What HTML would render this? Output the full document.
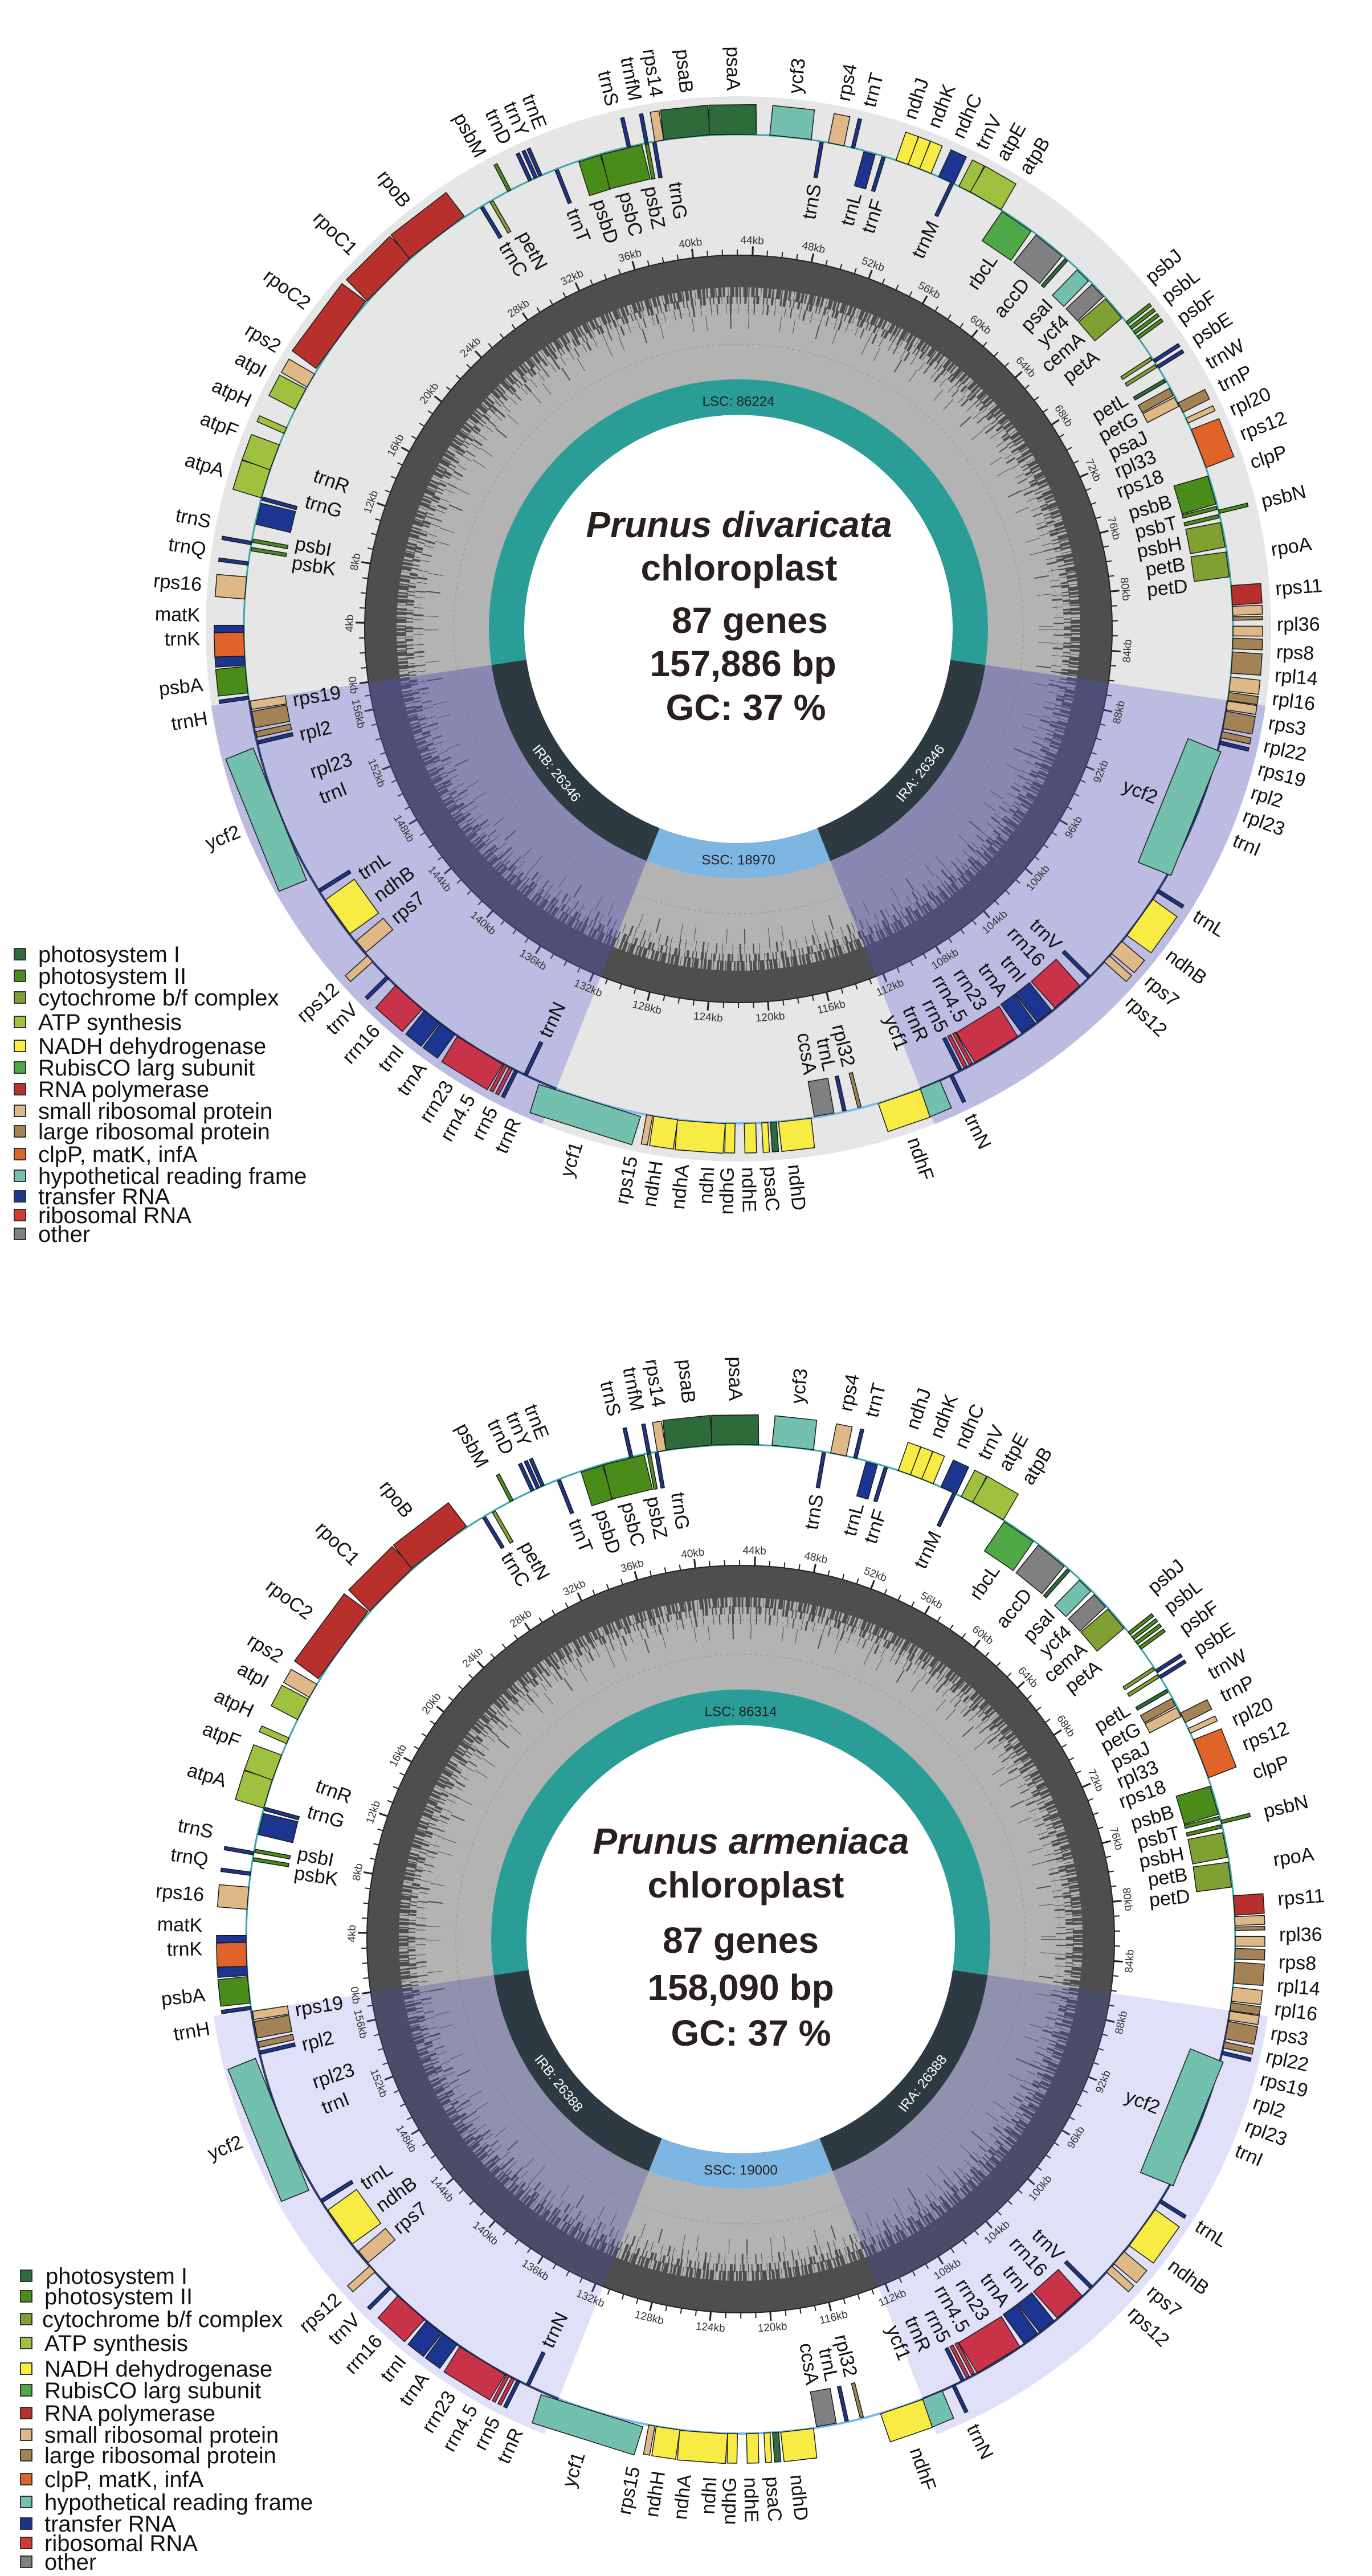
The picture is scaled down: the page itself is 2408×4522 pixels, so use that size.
<!DOCTYPE html>
<html><head><meta charset="utf-8"><style>
html,body{margin:0;padding:0;background:#fff}
svg{display:block}
text{font-family:"Liberation Sans",Arial,sans-serif}
.g text{font-size:34px;fill:#111}
.g rect{stroke:#1a1a1a;stroke-width:1.5}
.e{text-anchor:end}
.kb text{font-size:19px;fill:#333;text-anchor:middle}
.p1{fill:#2e6b3a}.p2{fill:#4a8c1a}.cy{fill:#80a034}.at{fill:#a0c040}.nd{fill:#f8ec44}.rb{fill:#4da845}.rp{fill:#b8302c}.sr{fill:#deb887}.lr{fill:#a38355}.cl{fill:#e0642a}.hy{fill:#74c0ae}.tr{fill:#1c3590}.rr{fill:#c9334a}.ot{fill:#808080}
.ttl{font-size:64px;font-weight:bold;fill:#2a1f1f;text-anchor:middle}
.leg text{font-size:40px;fill:#111}
.leg rect{stroke:#333;stroke-width:2}
</style></head><body>
<svg width="2408" height="4522" viewBox="0 0 2408 4522" xmlns="http://www.w3.org/2000/svg">
<defs>
<path id="ira" d="M 433.4 63.2 L 925.2 135.0 A 935 935 0 0 1 344.2 869.3 L 161.2 407.2 A 438 438 0 0 0 433.4 63.2 Z"/>
<path id="irb" d="M -161.2 407.2 L -344.2 869.3 A 935 935 0 0 1 -925.2 135.0 L -433.4 63.2 A 438 438 0 0 0 -161.2 407.2 Z"/>
<path id="iragc" d="M 433.4 63.2 L 649.1 94.7 A 656 656 0 0 1 241.5 609.9 L 161.2 407.2 A 438 438 0 0 0 433.4 63.2 Z"/>
<path id="irbgc" d="M -161.2 407.2 L -241.5 609.9 A 656 656 0 0 1 -649.1 94.7 L -433.4 63.2 A 438 438 0 0 0 -161.2 407.2 Z"/>
<g id="gc">
<circle r="547" fill="none" stroke="#b3b3b3" stroke-width="218"/>
<circle r="500" fill="none" stroke="#9c9c9c" stroke-width="1.5" stroke-dasharray="5 5"/>
<circle r="560" fill="none" stroke="#9c9c9c" stroke-width="1.5" stroke-dasharray="5 5"/>
<circle r="628" fill="none" stroke="#4e4e4e" stroke-width="56"/>
<circle r="592" fill="none" stroke="#4e4e4e" stroke-width="18" stroke-dasharray="5 2 3 4 8 1 2 3 6 2 4 5 1 3 7 2"/>
<circle r="578" fill="none" stroke="#4e4e4e" stroke-width="14" stroke-dasharray="2 6 4 3 1 8 3 2 5 7 2 4"/>
<circle r="562" fill="none" stroke="#4e4e4e" stroke-width="18" stroke-dasharray="1 9 2 14 1 6 3 11 1 17"/>
<circle r="540" fill="none" stroke="#4e4e4e" stroke-width="26" stroke-dasharray="1 23 1 41 2 30 1 55"/>
<circle r="656" fill="none" stroke="#222" stroke-width="2"/>
<circle r="661" fill="none" stroke="#222" stroke-width="10" stroke-dasharray="2 24.305" transform="rotate(171.7)"/>
<circle r="664" fill="none" stroke="#222" stroke-width="16" stroke-dasharray="3 102.7" transform="rotate(171.7)"/>
</g>
<g id="kb" class="kb">
<text dy=".35em" transform="rotate(81.7) translate(0,683)">0kb</text>
<text dy=".35em" transform="rotate(270.82) translate(0,-683)">4kb</text>
<text dy=".35em" transform="rotate(279.94) translate(0,-683)">8kb</text>
<text dy=".35em" transform="rotate(289.06) translate(0,-683)">12kb</text>
<text dy=".35em" transform="rotate(298.18) translate(0,-683)">16kb</text>
<text dy=".35em" transform="rotate(307.31) translate(0,-683)">20kb</text>
<text dy=".35em" transform="rotate(316.43) translate(0,-683)">24kb</text>
<text dy=".35em" transform="rotate(325.55) translate(0,-683)">28kb</text>
<text dy=".35em" transform="rotate(334.67) translate(0,-683)">32kb</text>
<text dy=".35em" transform="rotate(343.79) translate(0,-683)">36kb</text>
<text dy=".35em" transform="rotate(352.91) translate(0,-683)">40kb</text>
<text dy=".35em" transform="rotate(2.03) translate(0,-683)">44kb</text>
<text dy=".35em" transform="rotate(11.15) translate(0,-683)">48kb</text>
<text dy=".35em" transform="rotate(20.27) translate(0,-683)">52kb</text>
<text dy=".35em" transform="rotate(29.4) translate(0,-683)">56kb</text>
<text dy=".35em" transform="rotate(38.52) translate(0,-683)">60kb</text>
<text dy=".35em" transform="rotate(47.64) translate(0,-683)">64kb</text>
<text dy=".35em" transform="rotate(56.76) translate(0,-683)">68kb</text>
<text dy=".35em" transform="rotate(65.88) translate(0,-683)">72kb</text>
<text dy=".35em" transform="rotate(75.0) translate(0,-683)">76kb</text>
<text dy=".35em" transform="rotate(84.12) translate(0,-683)">80kb</text>
<text dy=".35em" transform="rotate(-86.76) translate(0,683)">84kb</text>
<text dy=".35em" transform="rotate(-77.64) translate(0,683)">88kb</text>
<text dy=".35em" transform="rotate(-68.51) translate(0,683)">92kb</text>
<text dy=".35em" transform="rotate(-59.39) translate(0,683)">96kb</text>
<text dy=".35em" transform="rotate(-50.27) translate(0,683)">100kb</text>
<text dy=".35em" transform="rotate(-41.15) translate(0,683)">104kb</text>
<text dy=".35em" transform="rotate(-32.03) translate(0,683)">108kb</text>
<text dy=".35em" transform="rotate(-22.91) translate(0,683)">112kb</text>
<text dy=".35em" transform="rotate(-13.79) translate(0,683)">116kb</text>
<text dy=".35em" transform="rotate(-4.67) translate(0,683)">120kb</text>
<text dy=".35em" transform="rotate(4.46) translate(0,683)">124kb</text>
<text dy=".35em" transform="rotate(13.58) translate(0,683)">128kb</text>
<text dy=".35em" transform="rotate(22.7) translate(0,683)">132kb</text>
<text dy=".35em" transform="rotate(31.82) translate(0,683)">136kb</text>
<text dy=".35em" transform="rotate(40.94) translate(0,683)">140kb</text>
<text dy=".35em" transform="rotate(50.06) translate(0,683)">144kb</text>
<text dy=".35em" transform="rotate(59.18) translate(0,683)">148kb</text>
<text dy=".35em" transform="rotate(68.3) translate(0,683)">152kb</text>
<text dy=".35em" transform="rotate(77.42) translate(0,683)">156kb</text>
</g>
<g id="ringseg">
<path fill="#2a9d96" d="M -433.4 63.2 A 438 438 0 1 1 433.4 63.2 L 372.1 54.3 A 376 376 0 1 0 -372.1 54.3 Z"/>
<path fill="#2e3a42" d="M 433.4 63.2 A 438 438 0 0 1 161.2 407.2 L 138.4 349.6 A 376 376 0 0 0 372.1 54.3 Z"/>
<path fill="#7db5e3" d="M 161.2 407.2 A 438 438 0 0 1 -161.2 407.2 L -138.4 349.6 A 376 376 0 0 0 138.4 349.6 Z"/>
<path fill="#2e3a42" d="M -161.2 407.2 A 438 438 0 0 1 -433.4 63.2 L -372.1 54.3 A 376 376 0 0 0 -138.4 349.6 Z"/>
<circle r="868" fill="none" stroke="#3aa6a6" stroke-width="3"/>
<path fill="none" stroke="#2b3a6a" stroke-width="4" d="M 858.9 125.3 A 868 868 0 0 1 319.5 807.0"/>
<path fill="none" stroke="#2b3a6a" stroke-width="4" d="M -319.5 807.0 A 868 868 0 0 1 -858.9 125.3"/>
<path fill="none" stroke="#7ab8e8" stroke-width="4" d="M 319.5 807.0 A 868 868 0 0 1 -319.5 807.0"/>
</g>
<g id="genes" class="g">
<!-- LSC -->
<rect class="p2" x="-23.4" y="-920" width="46.9" height="52" transform="rotate(264.1)"/>
<text class="e" dy=".35em" transform="rotate(354.1) translate(-945)">psbA</text>
<rect class="tr" x="-3" y="-920" width="6" height="52" transform="rotate(262)"/>
<text class="e" dy=".35em" transform="rotate(350.5) translate(-945)">trnH</text>
<rect class="tr" x="-8.6" y="-920" width="17.2" height="52" transform="rotate(266.35)"/>
<text class="e" dy=".35em" transform="rotate(359) translate(-945)">trnK</text>
<rect class="cl" x="-21.1" y="-920" width="42.2" height="52" transform="rotate(268.25)"/>
<text class="e" dy=".35em" transform="rotate(1.5) translate(-945)">matK</text>
<rect class="tr" x="-6.2" y="-920" width="12.5" height="52" transform="rotate(270)"/>
<rect class="sr" x="-19.5" y="-920" width="39" height="52" transform="rotate(274.75)"/>
<text class="e" dy=".35em" transform="rotate(4.75) translate(-945)">rps16</text>
<rect class="tr" x="-3" y="-920" width="6" height="52" transform="rotate(277.6)"/>
<text class="e" dy=".35em" transform="rotate(8.5) translate(-945)">trnQ</text>
<rect class="tr" x="-3" y="-920" width="6" height="52" transform="rotate(280)"/>
<text class="e" dy=".35em" transform="rotate(11.5) translate(-945)">trnS</text>
<rect class="p2" x="-3" y="-866" width="6" height="62" transform="rotate(279.3)"/>
<text dy=".35em" transform="rotate(8.5) translate(-792)">psbK</text>
<rect class="p2" x="-3" y="-866" width="6" height="62" transform="rotate(280.3)"/>
<text dy=".35em" transform="rotate(11) translate(-792)">psbI</text>
<rect class="tr" x="-19" y="-866" width="38" height="62" transform="rotate(283.5)"/>
<text dy=".35em" transform="rotate(16.5) translate(-792)">trnG</text>
<rect class="tr" x="-3" y="-866" width="6" height="62" transform="rotate(285.3)"/>
<text dy=".35em" transform="rotate(20) translate(-792)">trnR</text>
<rect class="at" x="-26.5" y="-920" width="53.1" height="52" transform="rotate(287.1)"/>
<text class="e" dy=".35em" transform="rotate(17.1) translate(-945)">atpA</text>
<rect class="at" x="-23.4" y="-920" width="46.9" height="52" transform="rotate(290.3)"/>
<text class="e" dy=".35em" transform="rotate(21.5) translate(-945)">atpF</text>
<rect class="at" x="-5.5" y="-920" width="11" height="52" transform="rotate(293.65)"/>
<text class="e" dy=".35em" transform="rotate(25) translate(-945)">atpH</text>
<rect class="at" x="-20.3" y="-920" width="40.6" height="52" transform="rotate(297.7)"/>
<text class="e" dy=".35em" transform="rotate(28.5) translate(-945)">atpI</text>
<rect class="sr" x="-13.3" y="-920" width="26.6" height="52" transform="rotate(300.15)"/>
<text class="e" dy=".35em" transform="rotate(31.5) translate(-945)">rps2</text>
<rect class="rp" x="-73.4" y="-920" width="146.8" height="52" transform="rotate(306.5)"/>
<text class="e" dy=".35em" transform="rotate(37) translate(-945)">rpoC2</text>
<rect class="rp" x="-53.9" y="-920" width="107.8" height="52" transform="rotate(315.05)"/>
<text class="e" dy=".35em" transform="rotate(44.5) translate(-945)">rpoC1</text>
<rect class="rp" x="-60.9" y="-920" width="121.8" height="52" transform="rotate(322.4)"/>
<text class="e" dy=".35em" transform="rotate(52) translate(-945)">rpoB</text>
<rect class="tr" x="-3" y="-866" width="6" height="62" transform="rotate(328.7)"/>
<text dy=".35em" transform="rotate(58.7) translate(-792)">trnC</text>
<rect class="cy" x="-3" y="-866" width="6" height="62" transform="rotate(330)"/>
<text dy=".35em" transform="rotate(61.5) translate(-792)">petN</text>
<rect class="p2" x="-3" y="-920" width="6" height="52" transform="rotate(332.4)"/>
<text class="e" dy=".35em" transform="rotate(61.5) translate(-945)">psbM</text>
<rect class="tr" x="-3" y="-920" width="6" height="52" transform="rotate(335.1)"/>
<text class="e" dy=".35em" transform="rotate(64.5) translate(-945)">trnD</text>
<rect class="tr" x="-3" y="-920" width="6" height="52" transform="rotate(335.8)"/>
<text class="e" dy=".35em" transform="rotate(66.5) translate(-945)">trnY</text>
<rect class="tr" x="-3" y="-920" width="6" height="52" transform="rotate(336.4)"/>
<text class="e" dy=".35em" transform="rotate(68.5) translate(-945)">trnE</text>
<rect class="tr" x="-3" y="-866" width="6" height="62" transform="rotate(338.4)"/>
<text dy=".35em" transform="rotate(68.4) translate(-792)">trnT</text>
<rect class="p2" x="-19.8" y="-866" width="39.5" height="62" transform="rotate(342.45)"/>
<text dy=".35em" transform="rotate(72) translate(-792)">psbD</text>
<rect class="p2" x="-36.6" y="-866" width="73.2" height="62" transform="rotate(346.3)"/>
<text dy=".35em" transform="rotate(75.5) translate(-792)">psbC</text>
<rect class="p2" x="-3" y="-866" width="6" height="62" transform="rotate(349.3)"/>
<text dy=".35em" transform="rotate(78.8) translate(-792)">psbZ</text>
<rect class="tr" x="-3" y="-866" width="6" height="62" transform="rotate(350.2)"/>
<text dy=".35em" transform="rotate(82) translate(-792)">trnG</text>
<rect class="tr" x="-3" y="-920" width="6" height="52" transform="rotate(347.2)"/>
<text class="e" dy=".35em" transform="rotate(76.5) translate(-945)">trnS</text>
<rect class="tr" x="-3" y="-920" width="6" height="52" transform="rotate(349.3)"/>
<text class="e" dy=".35em" transform="rotate(79) translate(-945)">trnfM</text>
<rect class="sr" x="-7.8" y="-920" width="15.6" height="52" transform="rotate(350.8)"/>
<text class="e" dy=".35em" transform="rotate(81.3) translate(-945)">rps14</text>
<rect class="p1" x="-41.4" y="-920" width="82.8" height="52" transform="rotate(354.05)"/>
<text class="e" dy=".35em" transform="rotate(84.5) translate(-945)">psaB</text>
<rect class="p1" x="-41.4" y="-920" width="82.8" height="52" transform="rotate(359.35)"/>
<text class="e" dy=".35em" transform="rotate(89.5) translate(-945)">psaA</text>
<rect class="hy" x="-36.7" y="-920" width="73.4" height="52" transform="rotate(6.05)"/>
<text dy=".35em" transform="rotate(-84) translate(945)">ycf3</text>
<rect class="tr" x="-3" y="-866" width="6" height="62" transform="rotate(9.7)"/>
<text class="e" dy=".35em" transform="rotate(-80.3) translate(792)">trnS</text>
<rect class="sr" x="-14" y="-920" width="28.1" height="52" transform="rotate(11.4)"/>
<text dy=".35em" transform="rotate(-78.8) translate(945)">rps4</text>
<rect class="tr" x="-3" y="-920" width="6" height="52" transform="rotate(13.4)"/>
<text dy=".35em" transform="rotate(-76) translate(945)">trnT</text>
<rect class="tr" x="-10.2" y="-866" width="20.5" height="62" transform="rotate(15.4)"/>
<text class="e" dy=".35em" transform="rotate(-75) translate(792)">trnL</text>
<rect class="tr" x="-3" y="-866" width="6" height="62" transform="rotate(17.1)"/>
<text class="e" dy=".35em" transform="rotate(-72) translate(792)">trnF</text>
<rect class="nd" x="-11.7" y="-920" width="23.4" height="52" transform="rotate(19.35)"/>
<text dy=".35em" transform="rotate(-71.5) translate(945)">ndhJ</text>
<rect class="nd" x="-11" y="-920" width="21.9" height="52" transform="rotate(20.8)"/>
<text dy=".35em" transform="rotate(-68.8) translate(945)">ndhK</text>
<rect class="nd" x="-11" y="-920" width="21.9" height="52" transform="rotate(22.2)"/>
<text dy=".35em" transform="rotate(-66) translate(945)">ndhC</text>
<rect class="tr" x="-14.8" y="-920" width="29.7" height="52" transform="rotate(24.85)"/>
<text dy=".35em" transform="rotate(-63.3) translate(945)">trnV</text>
<rect class="tr" x="-3" y="-866" width="6" height="62" transform="rotate(25.6)"/>
<text class="e" dy=".35em" transform="rotate(-64.4) translate(792)">trnM</text>
<rect class="at" x="-11.7" y="-920" width="23.4" height="52" transform="rotate(27.25)"/>
<text dy=".35em" transform="rotate(-60.8) translate(945)">atpE</text>
<rect class="at" x="-31.2" y="-920" width="62.5" height="52" transform="rotate(30)"/>
<text dy=".35em" transform="rotate(-58) translate(945)">atpB</text>
<rect class="rb" x="-30.7" y="-866" width="61.4" height="62" transform="rotate(34.3)"/>
<text class="e" dy=".35em" transform="rotate(-55.7) translate(792)">rbcL</text>
<rect class="ot" x="-29.2" y="-866" width="58.5" height="62" transform="rotate(39)"/>
<text class="e" dy=".35em" transform="rotate(-50.5) translate(792)">accD</text>
<rect class="p1" x="-3" y="-866" width="6" height="62" transform="rotate(41.6)"/>
<text class="e" dy=".35em" transform="rotate(-46.5) translate(792)">psaI</text>
<rect class="hy" x="-13.9" y="-866" width="27.8" height="62" transform="rotate(44.25)"/>
<text class="e" dy=".35em" transform="rotate(-43.5) translate(792)">ycf4</text>
<rect class="ot" x="-14.6" y="-866" width="29.3" height="62" transform="rotate(46.7)"/>
<text class="e" dy=".35em" transform="rotate(-40.5) translate(792)">cemA</text>
<rect class="cy" x="-22" y="-866" width="43.9" height="62" transform="rotate(49.5)"/>
<text class="e" dy=".35em" transform="rotate(-37.5) translate(792)">petA</text>
<rect class="p2" x="-3" y="-920" width="6" height="52" transform="rotate(51.8)"/>
<rect class="p2" x="-3" y="-920" width="6" height="52" transform="rotate(52.5)"/>
<rect class="p2" x="-3" y="-920" width="6" height="52" transform="rotate(53.2)"/>
<rect class="p2" x="-3" y="-920" width="6" height="52" transform="rotate(53.9)"/>
<text dy=".35em" transform="rotate(-40.5) translate(945)">psbJ</text>
<text dy=".35em" transform="rotate(-37.8) translate(945)">psbL</text>
<text dy=".35em" transform="rotate(-35.1) translate(945)">psbF</text>
<text dy=".35em" transform="rotate(-32.4) translate(945)">psbE</text>
<rect class="tr" x="-3" y="-920" width="6" height="52" transform="rotate(57.2)"/>
<text dy=".35em" transform="rotate(-29.5) translate(945)">trnW</text>
<rect class="tr" x="-3" y="-920" width="6" height="52" transform="rotate(58)"/>
<text dy=".35em" transform="rotate(-26.8) translate(945)">trnP</text>
<rect class="cy" x="-3" y="-866" width="6" height="62" transform="rotate(56.8)"/>
<text class="e" dy=".35em" transform="rotate(-30.8) translate(792)">petL</text>
<rect class="cy" x="-3" y="-866" width="6" height="62" transform="rotate(57.8)"/>
<text class="e" dy=".35em" transform="rotate(-28) translate(792)">petG</text>
<rect class="p1" x="-3" y="-866" width="6" height="62" transform="rotate(59.8)"/>
<text class="e" dy=".35em" transform="rotate(-25.3) translate(792)">psaJ</text>
<rect class="lr" x="-7.3" y="-866" width="14.6" height="62" transform="rotate(61.3)"/>
<text class="e" dy=".35em" transform="rotate(-22.6) translate(792)">rpl33</text>
<rect class="sr" x="-8.8" y="-866" width="17.6" height="62" transform="rotate(62.6)"/>
<text class="e" dy=".35em" transform="rotate(-19.9) translate(792)">rps18</text>
<rect class="lr" x="-9.3" y="-920" width="18.7" height="52" transform="rotate(63.4)"/>
<text dy=".35em" transform="rotate(-24) translate(945)">rpl20</text>
<rect class="sr" x="-4.7" y="-920" width="9.4" height="52" transform="rotate(65.1)"/>
<text dy=".35em" transform="rotate(-21.2) translate(945)">rps12</text>
<rect class="cl" x="-36" y="-920" width="71.9" height="52" transform="rotate(68.6)"/>
<text dy=".35em" transform="rotate(-18) translate(945)">clpP</text>
<rect class="p2" x="-25.6" y="-866" width="51.2" height="62" transform="rotate(73.65)"/>
<text class="e" dy=".35em" transform="rotate(-16.5) translate(792)">psbB</text>
<rect class="p2" x="-3" y="-866" width="6" height="62" transform="rotate(75.8)"/>
<text class="e" dy=".35em" transform="rotate(-13.7) translate(792)">psbT</text>
<rect class="p2" x="-3" y="-920" width="6" height="52" transform="rotate(76.3)"/>
<text dy=".35em" transform="rotate(-13.7) translate(945)">psbN</text>
<rect class="p2" x="-3" y="-866" width="6" height="62" transform="rotate(76.8)"/>
<text class="e" dy=".35em" transform="rotate(-11) translate(792)">psbH</text>
<rect class="cy" x="-22" y="-866" width="43.9" height="62" transform="rotate(79)"/>
<text class="e" dy=".35em" transform="rotate(-8.3) translate(792)">petB</text>
<rect class="cy" x="-22" y="-866" width="43.9" height="62" transform="rotate(82.5)"/>
<text class="e" dy=".35em" transform="rotate(-5.5) translate(792)">petD</text>
<rect class="rp" x="-17.2" y="-920" width="34.4" height="52" transform="rotate(86.1)"/>
<text dy=".35em" transform="rotate(-8.5) translate(945)">rpoA</text>
<rect class="sr" x="-7.8" y="-920" width="15.6" height="52" transform="rotate(87.9)"/>
<text dy=".35em" transform="rotate(-4.3) translate(945)">rps11</text>
<rect class="lr" x="-3.1" y="-920" width="6.2" height="52" transform="rotate(88.8)"/>
<text dy=".35em" transform="rotate(-0.5) translate(945)">rpl36</text>
<rect class="sr" x="-8.6" y="-920" width="17.2" height="52" transform="rotate(90.25)"/>
<text dy=".35em" transform="rotate(2.4) translate(945)">rps8</text>
<rect class="lr" x="-9.3" y="-920" width="18.7" height="52" transform="rotate(91.7)"/>
<text dy=".35em" transform="rotate(4.9) translate(945)">rpl14</text>
<rect class="lr" x="-18.7" y="-920" width="37.5" height="52" transform="rotate(93.9)"/>
<text dy=".35em" transform="rotate(7.4) translate(945)">rpl16</text>
<rect class="sr" x="-12.5" y="-920" width="25" height="52" transform="rotate(96.4)"/>
<text dy=".35em" transform="rotate(10) translate(945)">rps3</text>
<rect class="lr" x="-7" y="-920" width="14.1" height="52" transform="rotate(97.85)"/>
<text dy=".35em" transform="rotate(12.5) translate(945)">rpl22</text>
<!-- IRA -->
<rect class="sr" x="-7.8" y="-920" width="15.6" height="52" transform="rotate(98.9)"/>
<text dy=".35em" transform="rotate(15) translate(945)">rps19</text>
<rect class="lr" x="-15.6" y="-920" width="31.2" height="52" transform="rotate(100.6)"/>
<text dy=".35em" transform="rotate(17.6) translate(945)">rpl2</text>
<rect class="lr" x="-5.5" y="-920" width="10.9" height="52" transform="rotate(102.35)"/>
<text dy=".35em" transform="rotate(20.2) translate(945)">rpl23</text>
<rect class="tr" x="-3" y="-920" width="6" height="52" transform="rotate(103.3)"/>
<text dy=".35em" transform="rotate(23) translate(945)">trnI</text>
<rect class="hy" x="-117" y="-866" width="234" height="62" transform="rotate(112)"/>
<text class="e" dy=".35em" transform="rotate(22) translate(792)">ycf2</text>
<rect class="tr" x="-3" y="-920" width="6" height="52" transform="rotate(122)"/>
<text dy=".35em" transform="rotate(32) translate(945)">trnL</text>
<rect class="nd" x="-39" y="-920" width="78.1" height="52" transform="rotate(125.7)"/>
<text dy=".35em" transform="rotate(37) translate(945)">ndhB</text>
<rect class="sr" x="-14" y="-920" width="28.1" height="52" transform="rotate(130.1)"/>
<text dy=".35em" transform="rotate(40.5) translate(945)">rps7</text>
<rect class="sr" x="-7" y="-920" width="14.1" height="52" transform="rotate(131.85)"/>
<text dy=".35em" transform="rotate(43.5) translate(945)">rps12</text>
<rect class="tr" x="-3" y="-866" width="6" height="62" transform="rotate(134.8)"/>
<text class="e" dy=".35em" transform="rotate(44.8) translate(792)">trnV</text>
<rect class="rr" x="-29.2" y="-866" width="58.5" height="62" transform="rotate(138.2)"/>
<text class="e" dy=".35em" transform="rotate(47.8) translate(792)">rrn16</text>
<rect class="tr" x="-16.1" y="-866" width="32.2" height="62" transform="rotate(141.7)"/>
<text class="e" dy=".35em" transform="rotate(51) translate(792)">trnI</text>
<rect class="tr" x="-14.6" y="-866" width="29.3" height="62" transform="rotate(144)"/>
<text class="e" dy=".35em" transform="rotate(54) translate(792)">trnA</text>
<rect class="rr" x="-43.9" y="-866" width="87.8" height="62" transform="rotate(148.5)"/>
<text class="e" dy=".35em" transform="rotate(57.2) translate(792)">rrn23</text>
<rect class="rr" x="-3" y="-866" width="6" height="62" transform="rotate(151.9)"/>
<text class="e" dy=".35em" transform="rotate(60.2) translate(792)">rrn4.5</text>
<rect class="rr" x="-3" y="-866" width="6" height="62" transform="rotate(152.6)"/>
<text class="e" dy=".35em" transform="rotate(63) translate(792)">rrn5</text>
<rect class="tr" x="-3" y="-866" width="6" height="62" transform="rotate(153.3)"/>
<text class="e" dy=".35em" transform="rotate(65.8) translate(792)">trnR</text>
<rect class="tr" x="-3" y="-920" width="6" height="52" transform="rotate(154.5)"/>
<text dy=".35em" transform="rotate(64.5) translate(945)">trnN</text>
<rect class="hy" x="-20.3" y="-920" width="40.6" height="52" transform="rotate(157.3)"/>
<text class="e" dy=".35em" transform="rotate(68.6) translate(792)">ycf1</text>
<!-- SSC -->
<rect class="nd" x="-39" y="-920" width="78.1" height="52" transform="rotate(161)"/>
<text dy=".35em" transform="rotate(71) translate(945)">ndhF</text>
<rect class="lr" x="-3" y="-866" width="6" height="62" transform="rotate(165.8)"/>
<text class="e" dy=".35em" transform="rotate(75.8) translate(792)">rpl32</text>
<rect class="tr" x="-3" y="-866" width="6" height="62" transform="rotate(167.6)"/>
<text class="e" dy=".35em" transform="rotate(78.3) translate(792)">trnL</text>
<rect class="ot" x="-17.6" y="-866" width="35.1" height="62" transform="rotate(170)"/>
<text class="e" dy=".35em" transform="rotate(80.8) translate(792)">ccsA</text>
<rect class="nd" x="-28.9" y="-920" width="57.8" height="52" transform="rotate(173.45)"/>
<text dy=".35em" transform="rotate(84) translate(945)">ndhD</text>
<rect class="p1" x="-5.5" y="-920" width="10.9" height="52" transform="rotate(175.95)"/>
<text dy=".35em" transform="rotate(86.6) translate(945)">psaC</text>
<rect class="nd" x="-5.5" y="-920" width="10.9" height="52" transform="rotate(176.95)"/>
<text dy=".35em" transform="rotate(88.9) translate(945)">ndhE</text>
<rect class="nd" x="-10.1" y="-920" width="20.3" height="52" transform="rotate(178.65)"/>
<text class="e" dy=".35em" transform="rotate(271.2) translate(-945)">ndhG</text>
<rect class="nd" x="-8.6" y="-920" width="17.2" height="52" transform="rotate(180.95)"/>
<text class="e" dy=".35em" transform="rotate(273.3) translate(-945)">ndhI</text>
<rect class="nd" x="-42.1" y="-920" width="84.3" height="52" transform="rotate(184.3)"/>
<text class="e" dy=".35em" transform="rotate(276) translate(-945)">ndhA</text>
<rect class="nd" x="-21.1" y="-920" width="42.2" height="52" transform="rotate(188.45)"/>
<text class="e" dy=".35em" transform="rotate(278.8) translate(-945)">ndhH</text>
<rect class="sr" x="-5.5" y="-920" width="10.9" height="52" transform="rotate(190.35)"/>
<text class="e" dy=".35em" transform="rotate(281.5) translate(-945)">rps15</text>
<rect class="hy" x="-93.7" y="-920" width="187.4" height="52" transform="rotate(197.5)"/>
<text class="e" dy=".35em" transform="rotate(287.5) translate(-945)">ycf1</text>
<!-- IRB -->
<rect class="tr" x="-3" y="-866" width="6" height="62" transform="rotate(205.5)"/>
<text dy=".35em" transform="rotate(295.5) translate(-792)">trnN</text>
<rect class="tr" x="-3" y="-920" width="6" height="52" transform="rotate(206.7)"/>
<text class="e" dy=".35em" transform="rotate(294.5) translate(-945)">trnR</text>
<rect class="rr" x="-3" y="-920" width="6" height="52" transform="rotate(207.4)"/>
<text class="e" dy=".35em" transform="rotate(297.2) translate(-945)">rrn5</text>
<rect class="rr" x="-3" y="-920" width="6" height="52" transform="rotate(208.1)"/>
<text class="e" dy=".35em" transform="rotate(299.9) translate(-945)">rrn4.5</text>
<rect class="rr" x="-46.8" y="-920" width="93.7" height="52" transform="rotate(211.5)"/>
<text class="e" dy=".35em" transform="rotate(302.6) translate(-945)">rrn23</text>
<rect class="tr" x="-15.6" y="-920" width="31.2" height="52" transform="rotate(216)"/>
<text class="e" dy=".35em" transform="rotate(306) translate(-945)">trnA</text>
<rect class="tr" x="-17.2" y="-920" width="34.4" height="52" transform="rotate(218.3)"/>
<text class="e" dy=".35em" transform="rotate(309) translate(-945)">trnI</text>
<rect class="rr" x="-31.2" y="-920" width="62.5" height="52" transform="rotate(221.8)"/>
<text class="e" dy=".35em" transform="rotate(312.3) translate(-945)">rrn16</text>
<rect class="tr" x="-3" y="-920" width="6" height="52" transform="rotate(225.2)"/>
<text class="e" dy=".35em" transform="rotate(315.5) translate(-945)">trnV</text>
<rect class="sr" x="-7" y="-920" width="14.1" height="52" transform="rotate(228.15)"/>
<text class="e" dy=".35em" transform="rotate(318.4) translate(-945)">rps12</text>
<rect class="sr" x="-13.2" y="-866" width="26.3" height="62" transform="rotate(229.9)"/>
<text dy=".35em" transform="rotate(319.9) translate(-792)">rps7</text>
<rect class="nd" x="-36.6" y="-866" width="73.2" height="62" transform="rotate(234.3)"/>
<text dy=".35em" transform="rotate(323.5) translate(-792)">ndhB</text>
<rect class="tr" x="-3" y="-866" width="6" height="62" transform="rotate(238)"/>
<text dy=".35em" transform="rotate(327) translate(-792)">trnL</text>
<rect class="hy" x="-125" y="-920" width="250" height="52" transform="rotate(248)"/>
<text class="e" dy=".35em" transform="rotate(338) translate(-945)">ycf2</text>
<rect class="tr" x="-3" y="-866" width="6" height="62" transform="rotate(256.7)"/>
<text dy=".35em" transform="rotate(338) translate(-792)">trnI</text>
<rect class="lr" x="-5.1" y="-866" width="10.2" height="62" transform="rotate(257.65)"/>
<text dy=".35em" transform="rotate(341.5) translate(-792)">rpl23</text>
<rect class="lr" x="-14.6" y="-866" width="29.3" height="62" transform="rotate(259.4)"/>
<text dy=".35em" transform="rotate(346.5) translate(-792)">rpl2</text>
<rect class="sr" x="-7.3" y="-866" width="14.6" height="62" transform="rotate(261.1)"/>
<text dy=".35em" transform="rotate(351) translate(-792)">rps19</text>
</g>
</defs>

<!-- TOP MAP -->
<g transform="translate(1296,1104)">
<circle r="935" fill="#e6e6e6"/>
<use href="#gc"/>
<use href="#ira" fill="rgba(100,100,220,0.32)"/>
<use href="#irb" fill="rgba(100,100,220,0.32)"/>
<use href="#iragc" fill="rgba(40,40,110,0.15)"/>
<use href="#irbgc" fill="rgba(40,40,110,0.15)"/>
<circle r="376" fill="#fff"/>
<use href="#ringseg"/>
<use href="#kb"/>
<text x="0" y="-400" dy=".35em" font-size="24" fill="#222" text-anchor="middle">LSC: 86224</text>
<text x="0" y="405" dy=".35em" font-size="24" fill="#222" text-anchor="middle">SSC: 18970</text>
<text dy=".35em" font-size="24" fill="#fff" text-anchor="middle" transform="translate(-319,253) rotate(51.6)">IRB: 26346</text>
<text dy=".35em" font-size="24" fill="#fff" text-anchor="middle" transform="translate(319,253) rotate(-51.6)">IRA: 26346</text>
<use href="#genes"/>
</g>
<text class="ttl" x="1297" y="943" font-style="italic">Prunus divaricata</text>
<text class="ttl" x="1297" y="1019">chloroplast</text>
<text class="ttl" x="1316" y="1111">87 genes</text>
<text class="ttl" x="1304" y="1187">157,886 bp</text>
<text class="ttl" x="1309" y="1264">GC: 37 %</text>

<!-- BOTTOM MAP -->
<g transform="translate(1300,3404)">
<use href="#gc"/>
<use href="#ira" fill="rgba(100,100,220,0.2)"/>
<use href="#irb" fill="rgba(100,100,220,0.2)"/>
<use href="#iragc" fill="rgba(40,40,110,0.15)"/>
<use href="#irbgc" fill="rgba(40,40,110,0.15)"/>
<circle r="376" fill="#fff"/>
<use href="#ringseg"/>
<use href="#kb"/>
<text x="0" y="-400" dy=".35em" font-size="24" fill="#222" text-anchor="middle">LSC: 86314</text>
<text x="0" y="405" dy=".35em" font-size="24" fill="#222" text-anchor="middle">SSC: 19000</text>
<text dy=".35em" font-size="24" fill="#fff" text-anchor="middle" transform="translate(-319,253) rotate(51.6)">IRB: 26388</text>
<text dy=".35em" font-size="24" fill="#fff" text-anchor="middle" transform="translate(319,253) rotate(-51.6)">IRA: 26388</text>
<use href="#genes"/>
</g>
<text class="ttl" x="1318" y="3254" font-style="italic">Prunus armeniaca</text>
<text class="ttl" x="1309" y="3331">chloroplast</text>
<text class="ttl" x="1300" y="3428">87 genes</text>
<text class="ttl" x="1300" y="3511">158,090 bp</text>
<text class="ttl" x="1318" y="3591">GC: 37 %</text>

<!-- LEGEND TOP -->
<g class="leg">
<rect x="25" y="1665" width="20" height="20" class="p1"/><text x="67" y="1689">photosystem I</text>
<rect x="25" y="1703" width="20" height="20" class="p2"/><text x="67" y="1727">photosystem II</text>
<rect x="25" y="1741" width="20" height="20" class="cy"/><text x="67" y="1765">cytochrome b/f complex</text>
<rect x="25" y="1784" width="20" height="20" class="at"/><text x="67" y="1808">ATP synthesis</text>
<rect x="25" y="1826" width="20" height="20" fill="#f8ef3e"/><text x="67" y="1850">NADH dehydrogenase</text>
<rect x="25" y="1864" width="20" height="20" class="rb"/><text x="67" y="1888">RubisCO larg subunit</text>
<rect x="25" y="1902" width="20" height="20" class="rp"/><text x="67" y="1926">RNA polymerase</text>
<rect x="25" y="1940" width="20" height="20" class="sr"/><text x="67" y="1964">small ribosomal protein</text>
<rect x="25" y="1976" width="20" height="20" class="lr"/><text x="67" y="2000">large ribosomal protein</text>
<rect x="25" y="2016" width="20" height="20" class="cl"/><text x="67" y="2040">clpP, matK, infA</text>
<rect x="25" y="2054" width="20" height="20" class="hy"/><text x="67" y="2078">hypothetical reading frame</text>
<rect x="25" y="2090" width="20" height="20" class="tr"/><text x="67" y="2114">transfer RNA</text>
<rect x="25" y="2123" width="20" height="20" fill="#d63a2e"/><text x="67" y="2147">ribosomal RNA</text>
<rect x="25" y="2156" width="20" height="20" class="ot"/><text x="67" y="2180">other</text>
</g>
<!-- LEGEND BOTTOM -->
<g class="leg">
<rect x="36" y="3985" width="20" height="20" class="p1"/><text x="80" y="4009">photosystem I</text>
<rect x="36" y="4021" width="20" height="20" class="p2"/><text x="78" y="4045">photosystem II</text>
<rect x="36" y="4061" width="20" height="20" class="cy"/><text x="74" y="4085">cytochrome b/f complex</text>
<rect x="36" y="4103" width="20" height="20" class="at"/><text x="78" y="4127">ATP synthesis</text>
<rect x="36" y="4148" width="20" height="20" fill="#f8ef3e"/><text x="78" y="4172">NADH dehydrogenase</text>
<rect x="36" y="4186" width="20" height="20" class="rb"/><text x="78" y="4210">RubisCO larg subunit</text>
<rect x="36" y="4226" width="20" height="20" class="rp"/><text x="78" y="4250">RNA polymerase</text>
<rect x="36" y="4264" width="20" height="20" class="sr"/><text x="78" y="4288">small ribosomal protein</text>
<rect x="36" y="4300" width="20" height="20" class="lr"/><text x="78" y="4324">large ribosomal protein</text>
<rect x="36" y="4342" width="20" height="20" class="cl"/><text x="78" y="4366">clpP, matK, infA</text>
<rect x="36" y="4382" width="20" height="20" class="hy"/><text x="78" y="4406">hypothetical reading frame</text>
<rect x="36" y="4420" width="20" height="20" class="tr"/><text x="78" y="4444">transfer RNA</text>
<rect x="36" y="4454" width="20" height="20" fill="#d63a2e"/><text x="78" y="4478">ribosomal RNA</text>
<rect x="36" y="4487" width="20" height="20" class="ot"/><text x="78" y="4511">other</text>
</g>
</svg>
</body></html>
